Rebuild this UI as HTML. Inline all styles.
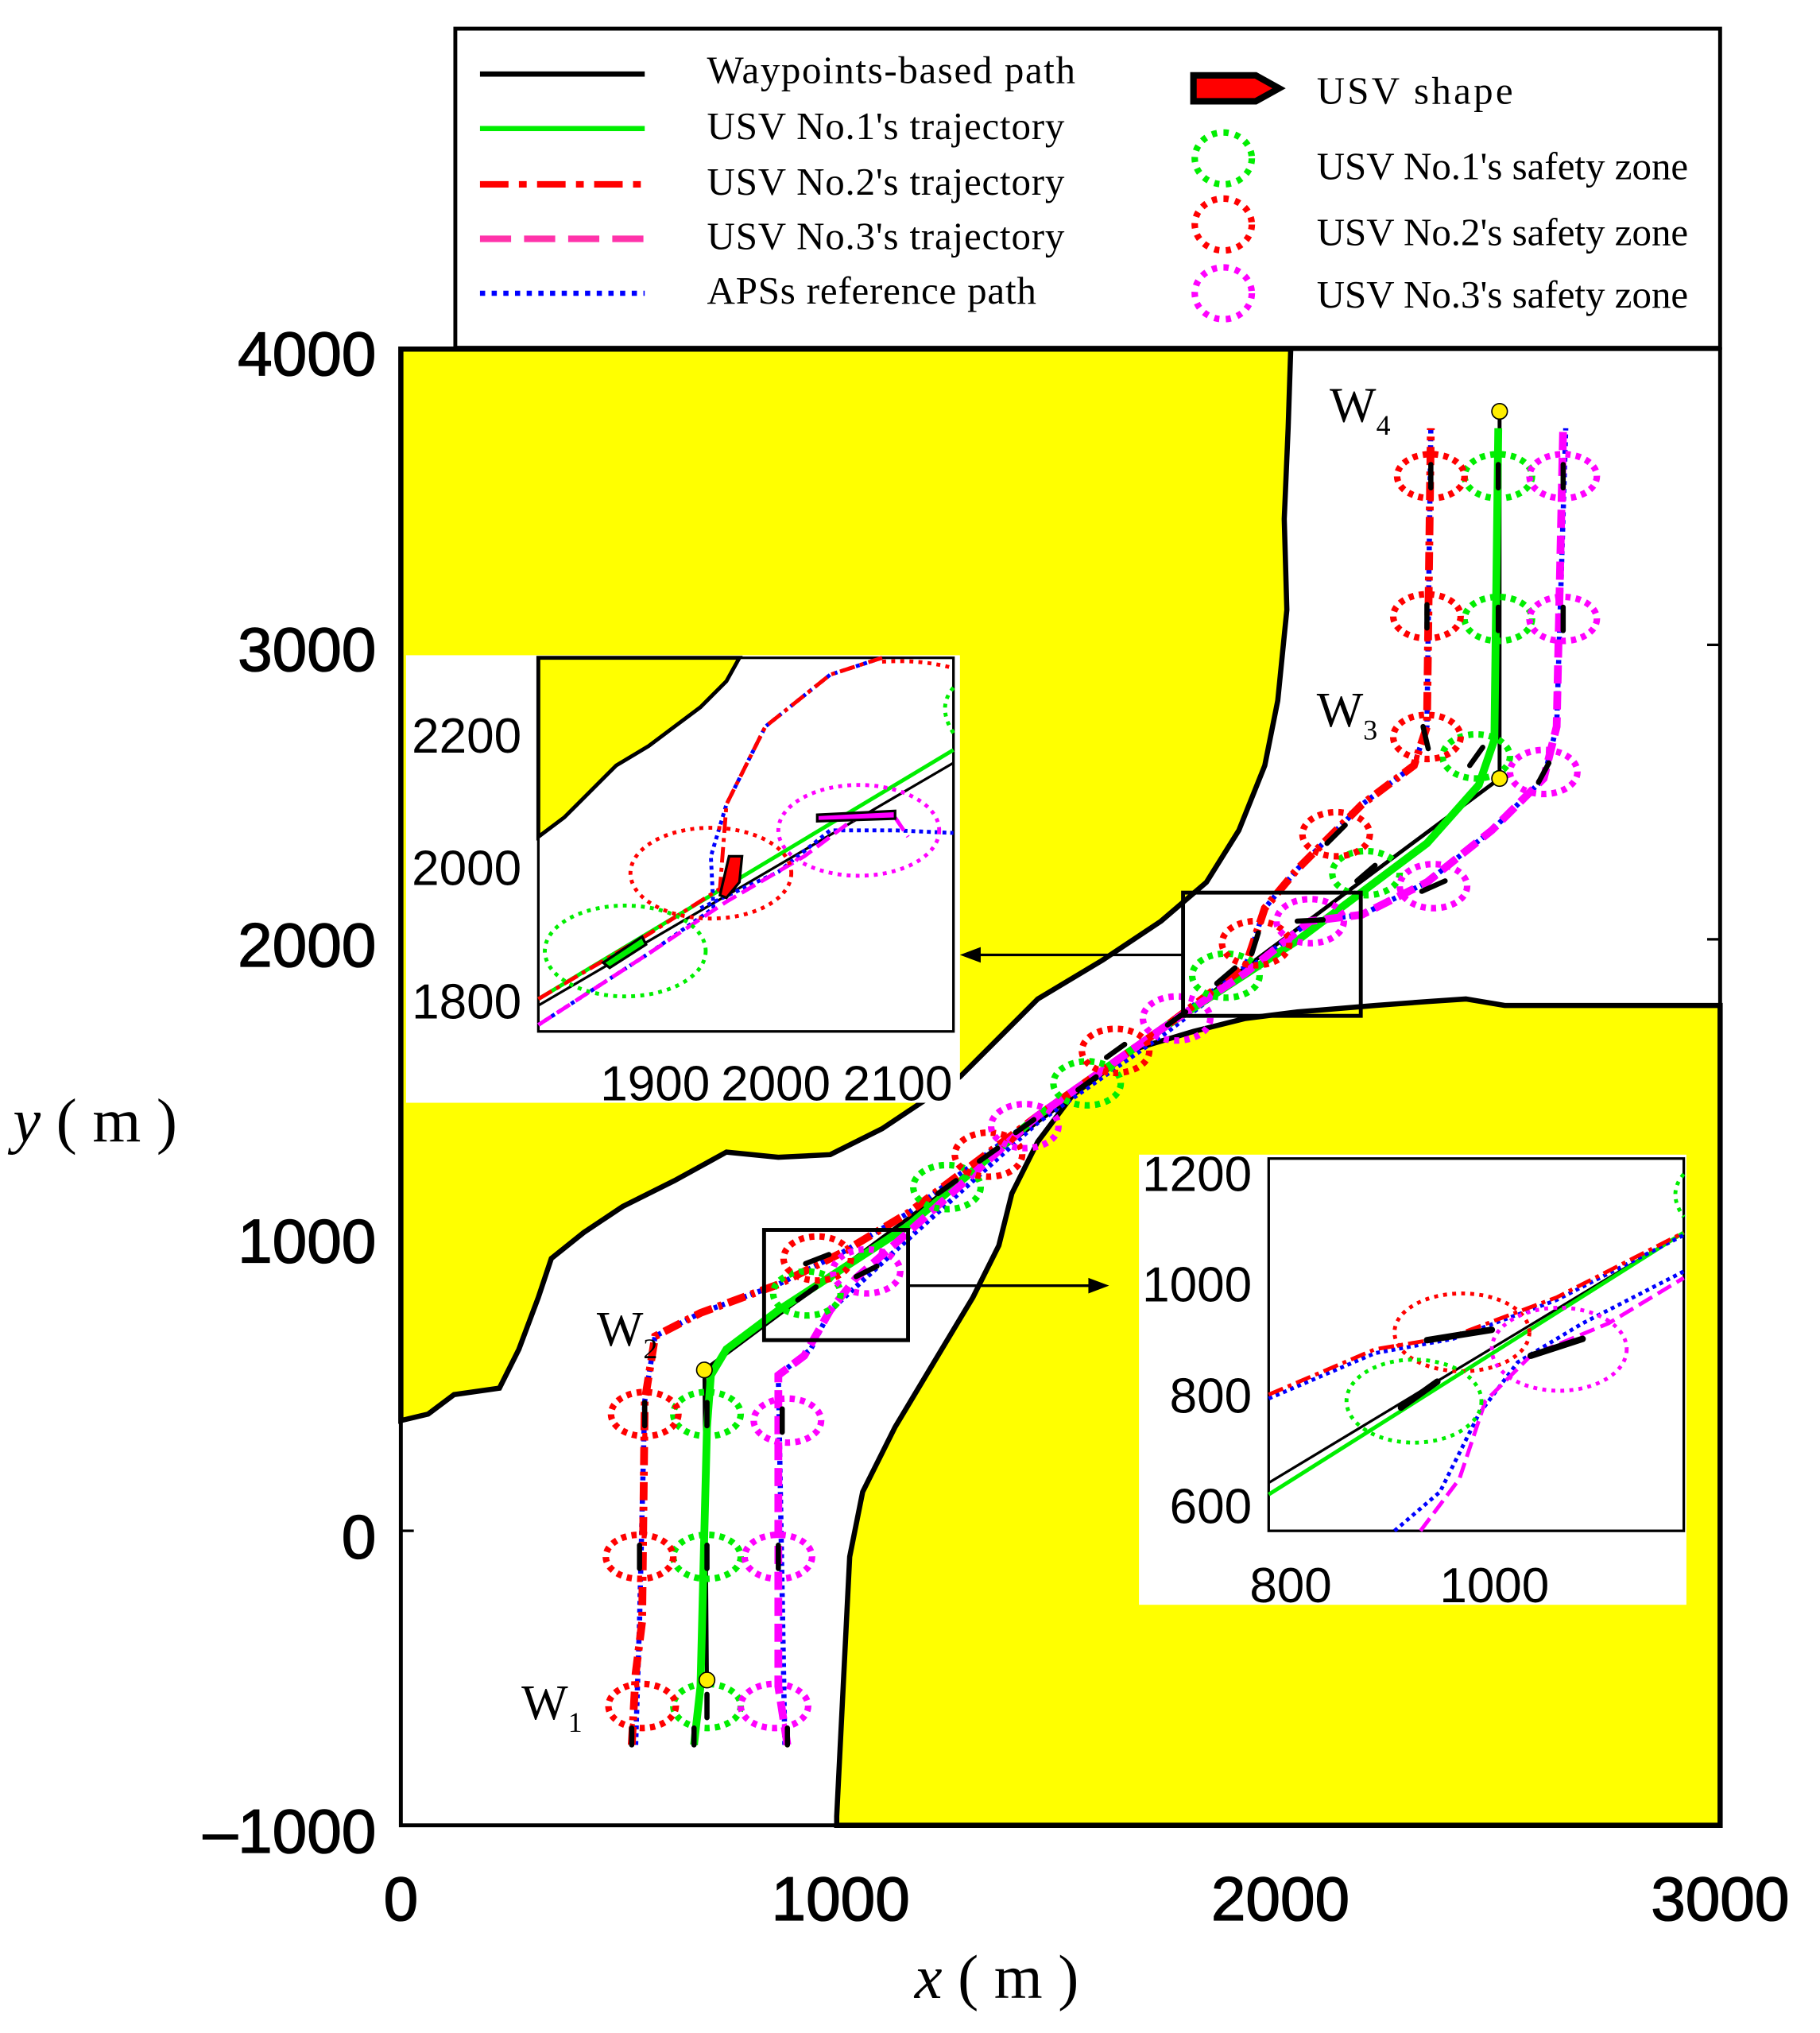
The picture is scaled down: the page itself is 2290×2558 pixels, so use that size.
<!DOCTYPE html>
<html><head><style>html,body{margin:0;padding:0;background:#fff}svg{display:block}</style></head><body>
<svg width="2290" height="2558" viewBox="0 0 1403 1567" xmlns="http://www.w3.org/2000/svg">
<rect width="1403" height="1567" fill="#fff"/>
<polygon fill="#ffff00" stroke="#000" stroke-width="4" points="309,269 995,269 993,330 990,400 992,470 985,540 975,590 955,640 930,680 895,710 850,740 800,770 770,800 740,830 710,850 680,870 640,890 600,892 560,888 520,910 480,930 450,950 425,970 415,1000 400,1040 385,1070 350,1075 330,1090 309,1095"/>
<polygon fill="#ffff00" stroke="#000" stroke-width="4" points="1326,775 1326,1407 645,1407 645,1400 650,1300 655,1200 665,1150 690,1100 720,1050 750,1000 770,960 780,920 800,880 830,840 870,810 920,795 960,785 1000,780 1060,775 1100,772 1130,770 1160,775"/>
<rect x="309" y="269" width="1017" height="1138" fill="none" stroke="#000" stroke-width="3"/>
<g stroke="#000" stroke-width="2">
<line x1="1326" y1="497" x2="1316" y2="497"/><line x1="1326" y1="724" x2="1316" y2="724"/>
<line x1="309" y1="1180" x2="319" y2="1180"/>
</g>
<g font-family="Liberation Sans, sans-serif" font-size="48" fill="#000" text-anchor="end" stroke="#000" stroke-width="0.8">
<text x="290" y="289">4000</text><text x="290" y="517">3000</text><text x="290" y="745">2000</text><text x="290" y="973">1000</text><text x="290" y="1201">0</text><text x="290" y="1428">–1000</text>
</g>
<g font-family="Liberation Sans, sans-serif" font-size="48" fill="#000" text-anchor="middle" stroke="#000" stroke-width="0.8">
<text x="309" y="1480">0</text><text x="648" y="1480">1000</text><text x="987" y="1480">2000</text><text x="1326" y="1480">3000</text>
</g>
<text x="10" y="880" font-family="Liberation Serif, serif" font-size="48"><tspan font-style="italic">y</tspan> ( m )</text>
<text x="705" y="1540" font-family="Liberation Serif, serif" font-size="48"><tspan font-style="italic">x</tspan> ( m )</text>
<polyline fill="none" stroke="#000" stroke-width="3" points="545,1295 543,1056 1156,600 1156,317"/>
<polyline fill="none" stroke="#0000ff" stroke-width="4" stroke-dasharray="3,3" points="490,1345 493,1250 497,1080 505,1030 540,1012 600,990 650,965 700,935 800,860 900,790 960,745 975,700 1000,670 1050,620 1090,590 1100,560 1103,330"/>
<polyline fill="none" stroke="#0000ff" stroke-width="4" stroke-dasharray="3,3" points="605,1345 600,1060 625,1040 640,1010 700,955 800,865 900,795 1010,710 1050,705 1100,680 1150,640 1190,600 1200,560 1207,330"/>
<polyline fill="none" stroke="#00ee00" stroke-width="6" points="535,1345 540,1300 545,1100 548,1060 560,1040 600,1010 700,945 800,860 900,790 1000,725 1100,650 1140,605 1152,570 1155,330"/>
<polyline fill="none" stroke="#ff0000" stroke-width="6" stroke-dasharray="14,5,3,5" points="487,1345 490,1290 495,1250 497,1080 505,1030 540,1012 600,990 650,965 700,935 800,860 900,790 960,745 975,700 1000,670 1050,620 1090,590 1100,560 1103,330"/>
<polyline fill="none" stroke="#ff00ff" stroke-width="6" stroke-dasharray="14,6" points="607,1345 600,1300 600,1060 620,1045 640,1010 660,985 700,950 800,860 900,790 960,750 1010,710 1050,705 1100,680 1150,640 1190,600 1200,560 1205,330"/>
<g fill="none" stroke-width="5" stroke-dasharray="4,4">
<g stroke="#00ee00">
<ellipse cx="945" cy="752" rx="26" ry="17"/><ellipse cx="1053" cy="673" rx="26" ry="17"/><ellipse cx="1138" cy="583" rx="26" ry="17"/><ellipse cx="1155" cy="477" rx="26" ry="17"/><ellipse cx="1155" cy="367" rx="26" ry="17"/><ellipse cx="838" cy="835" rx="26" ry="17"/><ellipse cx="730" cy="915" rx="26" ry="17"/><ellipse cx="622" cy="997" rx="26" ry="17"/><ellipse cx="545" cy="1090" rx="26" ry="17"/><ellipse cx="545" cy="1200" rx="26" ry="17"/><ellipse cx="545" cy="1315" rx="26" ry="17"/>
</g>
<g stroke="#ff0000">
<ellipse cx="968" cy="727" rx="26" ry="17"/><ellipse cx="1030" cy="643" rx="26" ry="17"/><ellipse cx="1100" cy="568" rx="26" ry="17"/><ellipse cx="1100" cy="475" rx="26" ry="17"/><ellipse cx="1103" cy="367" rx="26" ry="17"/><ellipse cx="860" cy="810" rx="26" ry="17"/><ellipse cx="762" cy="890" rx="26" ry="17"/><ellipse cx="630" cy="970" rx="26" ry="17"/><ellipse cx="497" cy="1090" rx="26" ry="17"/><ellipse cx="493" cy="1200" rx="26" ry="17"/><ellipse cx="495" cy="1315" rx="26" ry="17"/>
</g>
<g stroke="#ff00ff">
<ellipse cx="1010" cy="710" rx="26" ry="17"/><ellipse cx="1105" cy="683" rx="26" ry="17"/><ellipse cx="1190" cy="595" rx="26" ry="17"/><ellipse cx="1205" cy="477" rx="26" ry="17"/><ellipse cx="1205" cy="367" rx="26" ry="17"/><ellipse cx="907" cy="785" rx="26" ry="17"/><ellipse cx="790" cy="868" rx="26" ry="17"/><ellipse cx="668" cy="980" rx="26" ry="17"/><ellipse cx="607" cy="1095" rx="26" ry="17"/><ellipse cx="600" cy="1200" rx="26" ry="17"/><ellipse cx="597" cy="1315" rx="26" ry="17"/>
</g>
</g>
<!-- boat markers -->
<g stroke="#000" stroke-width="4" stroke-linecap="round">
<line x1="1155" y1="358" x2="1155" y2="376"/><line x1="1155" y1="468" x2="1155" y2="486"/><line x1="1133" y1="590" x2="1143" y2="576"/><line x1="1046" y1="679" x2="1060" y2="667"/><line x1="938" y1="758" x2="952" y2="746"/><line x1="831" y1="840" x2="845" y2="830"/><line x1="723" y1="920" x2="737" y2="910"/><line x1="615" y1="1002" x2="629" y2="992"/><line x1="545" y1="1081" x2="545" y2="1099"/><line x1="545" y1="1191" x2="545" y2="1209"/><line x1="545" y1="1306" x2="545" y2="1324"/><line x1="535" y1="1332" x2="535" y2="1345"/>
<line x1="1103" y1="358" x2="1103" y2="376"/><line x1="1100" y1="466" x2="1100" y2="484"/><line x1="1097" y1="560" x2="1101" y2="577"/><line x1="1023" y1="650" x2="1037" y2="636"/><line x1="965" y1="735" x2="970" y2="719"/><line x1="853" y1="815" x2="867" y2="805"/><line x1="755" y1="895" x2="769" y2="885"/><line x1="621" y1="974" x2="639" y2="967"/><line x1="497" y1="1081" x2="497" y2="1099"/><line x1="493" y1="1191" x2="493" y2="1209"/><line x1="487" y1="1332" x2="487" y2="1345"/>
<line x1="1205" y1="358" x2="1205" y2="376"/><line x1="1205" y1="468" x2="1205" y2="486"/><line x1="1186" y1="603" x2="1194" y2="588"/><line x1="1096" y1="687" x2="1114" y2="679"/><line x1="1000" y1="710" x2="1020" y2="709"/><line x1="900" y1="790" x2="914" y2="780"/><line x1="783" y1="873" x2="797" y2="863"/><line x1="660" y1="984" x2="676" y2="976"/><line x1="603" y1="1086" x2="603" y2="1104"/><line x1="600" y1="1191" x2="600" y2="1209"/><line x1="607" y1="1332" x2="607" y2="1345"/>
</g>
<g fill="#ffee00" stroke="#000" stroke-width="1"><circle cx="545" cy="1295" r="6"/><circle cx="543" cy="1056" r="6"/><circle cx="1156" cy="600" r="6"/><circle cx="1156" cy="317" r="6"/></g>
<g font-family="Liberation Serif, serif" font-size="38" fill="#000">
<text x="402" y="1325">W<tspan font-size="22" dy="10">1</tspan></text>
<text x="460" y="1037">W<tspan font-size="22" dy="10">2</tspan></text>
<text x="1015" y="560">W<tspan font-size="22" dy="10">3</tspan></text>
<text x="1025" y="325">W<tspan font-size="22" dy="10">4</tspan></text>
</g>
<g fill="none" stroke="#000" stroke-width="3">
<rect x="912" y="688" width="137" height="95"/><rect x="589" y="948" width="111" height="85"/>
<line x1="912" y1="736" x2="750" y2="736" stroke-width="2"/><line x1="700" y1="991" x2="845" y2="991" stroke-width="2"/>
</g>
<polygon points="740,736 756,730 756,742" fill="#000"/><polygon points="855,991 839,985 839,997" fill="#000"/>
<!-- inset 1 -->
<rect x="313" y="505" width="427" height="345" fill="#fff"/>
<polygon fill="#ffff00" stroke="#000" stroke-width="3" points="415,507 570,507 560,525 540,545 520,560 500,575 475,590 455,610 435,630 415,645"/>
<rect x="415" y="507" width="320" height="288" fill="none" stroke="#000" stroke-width="2"/>
<line x1="415" y1="775" x2="735" y2="588" stroke="#000" stroke-width="2"/>
<line x1="415" y1="770" x2="735" y2="578" stroke="#00ee00" stroke-width="3"/>
<polyline fill="none" stroke="#0000ff" stroke-width="3" stroke-dasharray="3,3" points="415,790 500,735 550,700 548,660 560,620 590,560 640,520 680,507"/>
<polyline fill="none" stroke="#0000ff" stroke-width="3" stroke-dasharray="3,3" points="540,700 600,672 640,640 690,640 735,642"/>
<polyline fill="none" stroke="#ff0000" stroke-width="3" stroke-dasharray="12,4,3,4" points="415,770 500,720 555,685 560,620 590,560 640,520 680,507"/>
<polyline fill="none" stroke="#ff00ff" stroke-width="3" stroke-dasharray="12,5" points="415,790 500,735 560,695 620,660 660,630 690,630 700,645"/>
<g fill="none" stroke-width="3" stroke-dasharray="3,4">
<ellipse cx="548" cy="673" rx="62" ry="35" stroke="#ff0000"/><ellipse cx="482" cy="733" rx="62" ry="35" stroke="#00ee00"/><ellipse cx="662" cy="640" rx="62" ry="35" stroke="#ff00ff"/>
<path d="M680,510 Q710,508 735,515" stroke="#ff0000"/><path d="M735,530 Q722,545 735,565" stroke="#00ee00"/>
</g>
<polygon points="555,690 562,660 572,660 570,680 560,692" fill="#ff0000" stroke="#000" stroke-width="2"/>
<polygon points="465,742 495,722 498,728 470,746" fill="#00ee00" stroke="#000" stroke-width="2"/>
<polygon points="630,628 690,625 690,631 630,633" fill="#ff00ff" stroke="#000" stroke-width="2"/>
<g font-family="Liberation Sans, sans-serif" font-size="38" fill="#000">
<text x="402" y="580" text-anchor="end">2200</text><text x="402" y="682" text-anchor="end">2000</text><text x="402" y="785" text-anchor="end">1800</text>
<text x="505" y="848" text-anchor="middle">1900</text><text x="598" y="848" text-anchor="middle">2000</text><text x="692" y="848" text-anchor="middle">2100</text>
</g>
<!-- inset 2 -->
<rect x="878" y="890" width="422" height="347" fill="#fff"/>
<rect x="978" y="893" width="320" height="287" fill="none" stroke="#000" stroke-width="2"/>
<line x1="978" y1="1143" x2="1298" y2="950" stroke="#000" stroke-width="2"/>
<line x1="978" y1="1152" x2="1298" y2="950" stroke="#00ee00" stroke-width="3"/>
<polyline fill="none" stroke="#0000ff" stroke-width="3" stroke-dasharray="3,3" points="978,1078 1060,1043 1120,1032 1200,1002 1298,952"/>
<polyline fill="none" stroke="#ff0000" stroke-width="3" stroke-dasharray="12,4,3,4" points="978,1075 1060,1040 1120,1030 1200,1000 1298,950"/>
<polyline fill="none" stroke="#0000ff" stroke-width="3" stroke-dasharray="3,3" points="1075,1180 1110,1150 1140,1090 1170,1050 1220,1020 1298,980"/>
<polyline fill="none" stroke="#ff00ff" stroke-width="3" stroke-dasharray="12,5" points="1095,1180 1125,1140 1145,1080 1180,1045 1240,1020 1298,985"/>
<g fill="none" stroke-width="3" stroke-dasharray="3,4">
<ellipse cx="1127" cy="1027" rx="52" ry="30" stroke="#ff0000"/><ellipse cx="1090" cy="1080" rx="52" ry="32" stroke="#00ee00"/><ellipse cx="1202" cy="1040" rx="52" ry="32" stroke="#ff00ff"/>
<path d="M1298,905 Q1285,920 1298,938" stroke="#00ee00"/>
</g>
<g stroke="#000" stroke-width="5" stroke-linecap="round"><line x1="1100" y1="1033" x2="1150" y2="1025"/><line x1="1080" y1="1085" x2="1108" y2="1065"/><line x1="1180" y1="1045" x2="1220" y2="1032"/></g>
<g font-family="Liberation Sans, sans-serif" font-size="38" fill="#000">
<text x="965" y="918" text-anchor="end">1200</text><text x="965" y="1003" text-anchor="end">1000</text><text x="965" y="1089" text-anchor="end">800</text><text x="965" y="1174" text-anchor="end">600</text>
<text x="995" y="1235" text-anchor="middle">800</text><text x="1152" y="1235" text-anchor="middle">1000</text>
</g>
<!-- legend -->
<rect x="351" y="22" width="975" height="246" fill="#fff" stroke="#000" stroke-width="3"/>
<line x1="370" y1="57" x2="497" y2="57" stroke="#000" stroke-width="4"/>
<line x1="370" y1="99" x2="497" y2="99" stroke="#00ee00" stroke-width="4"/>
<line x1="370" y1="142" x2="497" y2="142" stroke="#ff0000" stroke-width="5" stroke-dasharray="22,8,6,8"/>
<line x1="370" y1="184" x2="497" y2="184" stroke="#ff33aa" stroke-width="5" stroke-dasharray="24,10"/>
<line x1="370" y1="226" x2="497" y2="226" stroke="#0000ff" stroke-width="4" stroke-dasharray="4,5"/>
<g font-family="Liberation Serif, serif" font-size="30" fill="#000">
<text x="545" y="64" letter-spacing="1">Waypoints-based path</text><text x="545" y="107" letter-spacing="0.5">USV No.1's trajectory</text><text x="545" y="150" letter-spacing="0.5">USV No.2's trajectory</text><text x="545" y="192" letter-spacing="0.5">USV No.3's trajectory</text><text x="545" y="234" letter-spacing="0.5">APSs reference path</text>
<text x="1015" y="80" letter-spacing="2">USV shape</text><text x="1015" y="138">USV No.1's safety zone</text><text x="1015" y="189">USV No.2's safety zone</text><text x="1015" y="237">USV No.3's safety zone</text>
</g>
<polygon points="920,58 968,58 986,68 968,78 920,78" fill="#ff0000" stroke="#000" stroke-width="5"/>
<g fill="none" stroke-width="5" stroke-dasharray="4,5">
<ellipse cx="943" cy="122" rx="22" ry="20" stroke="#00ee00"/><ellipse cx="943" cy="173" rx="22" ry="20" stroke="#ff0000"/><ellipse cx="943" cy="226" rx="22" ry="20" stroke="#ff00ff"/>
</g>
</svg>
</body></html>
